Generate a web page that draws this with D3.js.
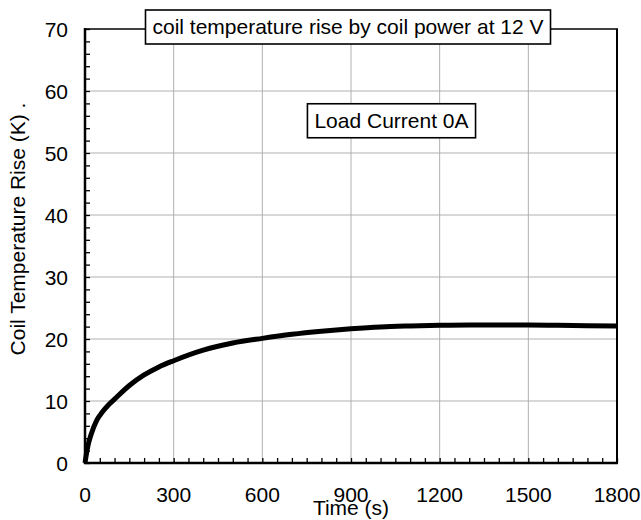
<!DOCTYPE html>
<html><head><meta charset="utf-8">
<script src="https://cdn.jsdelivr.net/npm/d3@7"></script>
<style>body{margin:0;background:#fff}svg{display:block}text{font-family:"Liberation Sans",Arial,sans-serif;fill:#000}</style>
</head><body>
<svg id="c" width="641" height="520"></svg>
<script>
const timeS = [0,5,10,20,40,60,80,100,150,200,250,300,400,500,600,700,800,900,1000,1100,1200,1300,1400,1500,1600,1700,1800];
const riseK = [0,1.5,2.8,4.5,6.9,8.3,9.4,10.3,12.5,14.2,15.5,16.5,18.2,19.35,20.1,20.75,21.25,21.65,21.95,22.1,22.2,22.25,22.25,22.25,22.2,22.15,22.1];
const xTicks = [0,300,600,900,1200,1500,1800];
const yTicks = [0,10,20,30,40,50,60,70];
const titleText = "coil temperature rise by coil power at 12 V";
const noteText = "Load Current 0A";
const notePos = [1037, 55.2];
const xLabel = "Time (s)";
const yLabel = "Coil Temperature Rise (K) .";

const svg = d3.select("#c");
const L = 85, R = 617, T = 29, B = 463;
const x = d3.scaleLinear().domain([0,1800]).range([L,R]);
const y = d3.scaleLinear().domain([0,70]).range([B,T]);
const FS = 21;

// grid
const g = svg.append("g");
g.selectAll(".vg").data(xTicks.slice(1,-1)).join("line")
  .attr("x1",d=>x(d)).attr("x2",d=>x(d)).attr("y1",T).attr("y2",B)
  .attr("stroke","#b0b0b0").attr("stroke-width",1);
g.selectAll(".hg").data(yTicks.slice(1,-1)).join("line")
  .attr("y1",d=>y(d)).attr("y2",d=>y(d)).attr("x1",L).attr("x2",R)
  .attr("stroke","#b0b0b0").attr("stroke-width",1);

// minor ticks
const xMinor = d3.range(0,1801,50);
const yMinor = d3.range(0,71,2);
svg.append("g").call(d3.axisBottom(x).tickValues(xMinor).tickSize(-5).tickFormat(""))
  .attr("transform",`translate(0,${B})`).call(a=>{a.select(".domain").remove();a.selectAll("line").attr("stroke-width",1.3);});
svg.append("g").call(d3.axisLeft(y).tickValues(yMinor).tickSize(-5).tickFormat(""))
  .attr("transform",`translate(${L},0)`).call(a=>{a.select(".domain").remove();a.selectAll("line").attr("stroke-width",1.3);});

// curve
const line = d3.line().x((d,i)=>x(timeS[i])).y(d=>y(d)).curve(d3.curveMonotoneX);
svg.append("path").datum(riseK).attr("d",line).attr("fill","none")
  .attr("stroke","#000").attr("stroke-width",5).attr("stroke-linejoin","round");

// frame
svg.append("line").attr("x1",L).attr("x2",L).attr("y1",T-1).attr("y2",B+1).attr("stroke","#000").attr("stroke-width",2.5);
svg.append("line").attr("x1",L-1).attr("x2",R+1).attr("y1",B).attr("y2",B).attr("stroke","#000").attr("stroke-width",2.5);
svg.append("line").attr("x1",R).attr("x2",R).attr("y1",T).attr("y2",B+1).attr("stroke","#000").attr("stroke-width",2);
svg.append("line").attr("x1",L).attr("x2",R+1).attr("y1",T).attr("y2",T).attr("stroke","#000").attr("stroke-width",1.6);

// tick labels
svg.append("g").selectAll("text").data(xTicks).join("text")
  .attr("x",d=>x(d)).attr("y",502).attr("text-anchor","middle").attr("font-size",FS).text(d=>d);
svg.append("g").selectAll("text").data(yTicks).join("text")
  .attr("x",L-17).attr("y",d=>y(d)).attr("dy","0.36em").attr("text-anchor","end").attr("font-size",FS).text(d=>d);

// axis labels
svg.append("text").attr("x",(L+R)/2).attr("y",515).attr("text-anchor","middle").attr("font-size",FS).text(xLabel);
svg.append("text").attr("transform","translate(25,229) rotate(-90)").attr("text-anchor","middle").attr("font-size",FS).text(yLabel);

// boxed texts
function boxed(cx, cy, txt){
  const gg = svg.append("g");
  const r = gg.append("rect");
  const t = gg.append("text").attr("x",cx).attr("y",cy).attr("dy","0.35em").attr("text-anchor","middle").attr("font-size",FS).text(txt);
  const bb = t.node().getBBox();
  r.attr("x",bb.x-7).attr("width",bb.width+14).attr("y",cy-17).attr("height",34)
   .attr("fill","#fff").attr("stroke","#000").attr("stroke-width",1.6);
}
boxed(348, 27, titleText);
boxed(x(notePos[0]), y(notePos[1]), noteText);
</script>
</body></html>
